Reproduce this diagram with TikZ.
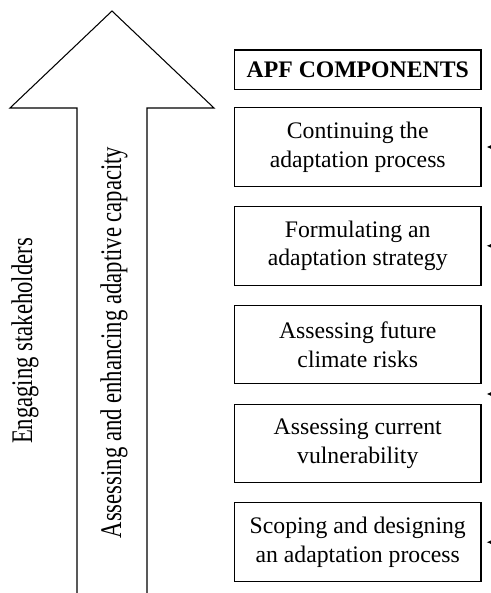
\documentclass[tikz,border=0pt]{standalone}
\usepackage{fontspec}
\setmainfont{Liberation Serif}
\usepackage{tikz}
\usetikzlibrary{positioning,arrows.meta}
\tikzset{
  comp/.style={draw,line width=0.6pt,minimum width=4.93cm,minimum height=1.57cm,
    align=center,inner sep=0pt,font=\fontsize{13.5}{16.3}\selectfont},
  side/.style={rotate=90,anchor=base,inner sep=0pt,font=\fontsize{12.9}{15}\selectfont},
  feed/.style={line width=0.5pt,-{Latex[length=3pt,width=2.6pt]},shorten >=0.1cm}
}
\newcommand{\tallword}[1]{\scalebox{1}[1.32]{#1}}

\begin{document}
\begin{tikzpicture}[scale=1.0]
\useasboundingbox (0,0) rectangle (9.8,11.86);
\draw[line width=0.6pt] (1.54,-0.1) -- (1.54,9.70) -- (0.2,9.70) -- (2.24,11.64)
  -- (4.28,9.70) -- (2.94,9.70) -- (2.94,-0.1);
\node[side] (stake) at (0.64,5.04) {\tallword{Engaging stakeholders}};
\node[side] (capac) at (2.42,5.01) {\tallword{Assessing and enhancing adaptive capacity}};
\node[comp,minimum height=0.786cm,font=\fontsize{13.5}{16.3}\selectfont\bfseries] (apf) at (7.155,10.467) {APF COMPONENTS};
\node[comp] (cont) at (7.155,8.92) {Continuing the\\adaptation process};
\node[comp,below=0.385cm of cont] (form) {Formulating an\\adaptation strategy};
\node[comp,below=0.385cm of form] (risk) {Assessing future\\climate risks};
\node[comp,below=0.385cm of risk] (vuln) {Assessing current\\vulnerability};
\node[comp,below=0.385cm of vuln] (scop) {Scoping and designing\\an adaptation process};
\coordinate[below=0.1925cm of risk.south east] (gap);
\coordinate[right=0.7cm of cont.east] (in1);
\coordinate[right=0.7cm of form.east] (in2);
\coordinate[right=0.7cm of gap] (in3);
\coordinate[right=0.7cm of scop.east] (in4);
\draw[feed] (in1) -- (cont);
\draw[feed] (in2) -- (form);
\draw[feed] (in3) -- (gap);
\draw[feed] (in4) -- (scop);
\end{tikzpicture}
\end{document}
